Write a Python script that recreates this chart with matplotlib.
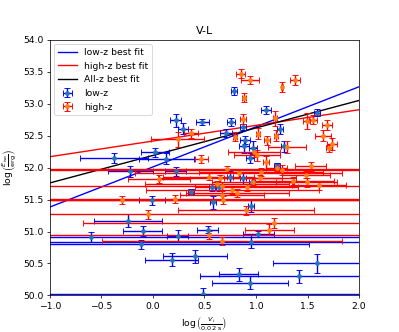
import numpy as np
import matplotlib
matplotlib.use('Agg')
import matplotlib.pyplot as plt

# best fit lines: slope, intercept
lowz_fit = [0.627, 52.01]
highz_fit = [0.245, 52.415]
allz_fit = [0.43, 52.19]

# low-z sample
lowz_x = [0.22, 0.29, -0.38, 0.02, 0.13, -0.22, 0.22, 0.48, 0.79, 1.10, 0.76, 0.87,
          0.71, 0.89, 0.88, 0.97, 0.94, 1.23, 1.59, 1.20, 0.75, 0.87, 0.96, 0.57,
          0.64, 0.37, -0.01, 0.58, 0.95, -0.24, -0.10, -0.60, 0.24, -0.12, 0.95,
          0.53, 1.02, 0.18, 0.41, 1.59, 0.83, 1.42, 0.94, 0.49, 1.27]
lowz_y = [52.74, 52.61, 52.15, 52.24, 52.14, 51.94, 51.94, 52.71, 53.20, 52.90, 52.71, 52.63,
          52.54, 52.43, 52.33, 52.31, 52.15, 52.60, 52.86, 52.02, 51.86, 51.83, 51.78, 51.69,
          51.69, 51.62, 51.49, 51.46, 51.40, 51.17, 51.01, 50.91, 50.93, 50.80, 50.84,
          51.03, 50.96, 50.56, 50.61, 50.50, 50.33, 50.30, 50.20, 50.02, 52.33]
lowz_xerr = [0.05, 0.05, 0.33, 0.14, 0.27, 0.22, 0.10, 0.06, 0.03, 0.05, 0.04, 0.03,
             0.06, 0.05, 0.05, 0.04, 0.04, 0.03, 0.03, 0.03, 0.03, 0.03, 0.03, 0.03,
             0.03, 0.03, 0.13, 0.03, 0.03, 0.33, 0.19, 3.0, 0.10, 1.63, 3.0,
             0.10, 0.15, 0.26, 0.31, 0.43, 0.19, 0.96, 0.37, 3.0, 0.03]
lowz_yerr = [0.10, 0.08, 0.08, 0.07, 0.09, 0.08, 0.07, 0.05, 0.06, 0.06, 0.06, 0.05,
             0.06, 0.06, 0.10, 0.10, 0.08, 0.08, 0.05, 0.05, 0.08, 0.08, 0.08, 0.06,
             0.06, 0.04, 0.07, 0.10, 0.10, 0.10, 0.08, 0.08, 0.09, 0.07, 0.10,
             0.05, 0.05, 0.10, 0.10, 0.15, 0.10, 0.10, 0.10, 0.10, 0.08]

# high-z sample
highz_x = [0.85, 0.94, 1.38, 1.25, 0.88, 0.87, 1.18, 1.49, 1.55, 1.69, 1.02, 1.19,
           1.11, 0.80, 1.65, 1.74, 1.71, 1.30, 0.24, 0.37, 0.47, 0.98, 1.01, 1.10,
           1.53, 1.20, 1.25, 0.72, 0.83, 0.54, 0.06, 1.05, 0.65, 1.485, 1.36, 1.49,
           1.61, 0.67, 0.62, 0.77, 0.82, 0.91, 1.04, 0.97, 0.67, -0.30, 0.21, 0.68,
           0.90, -0.05, 1.17, 1.13, 0.54, 0.67]
highz_y = [53.47, 53.37, 53.37, 53.26, 53.09, 52.76, 52.77, 52.73, 52.75, 52.66, 52.53, 52.50,
           52.43, 52.48, 52.50, 52.37, 52.30, 52.32, 52.44, 52.54, 52.13, 52.24, 52.19, 52.08,
           52.02, 52.00, 51.96, 51.97, 51.91, 51.86, 51.82, 51.93, 51.83, 51.89, 51.79, 51.77,
           51.72, 51.71, 51.74, 51.65, 51.60, 51.69, 51.83, 51.78, 51.57, 51.49, 51.51, 51.49,
           51.33, 51.27, 51.13, 51.03, 50.95, 50.85]
highz_xerr = [0.04, 0.09, 0.05, 0.01, 0.02, 0.03, 0.02, 0.03, 0.04, 0.05, 0.02, 0.02,
              0.03, 0.02, 0.08, 0.05, 0.03, 0.18, 0.26, 0.07, 0.06, 0.25, 0.22, 0.03,
              0.15, 0.10, 2.5, 2.0, 1.0, 0.44, 0.30, 0.6, 0.6, 0.23, 0.4, 0.3,
              0.26, 2.0, 0.7, 0.84, 0.5, 0.5, 0.35, 0.4, 0.41, 2.5, 2.2, 1.8,
              0.66, 2.2, 1.85, 0.24, 2.0, 1.16]
highz_yerr = [0.07, 0.07, 0.08, 0.08, 0.07, 0.08, 0.12, 0.12, 0.07, 0.08, 0.09, 0.09,
              0.07, 0.07, 0.08, 0.10, 0.06, 0.09, 0.12, 0.07, 0.06, 0.08, 0.08, 0.10,
              0.07, 0.05, 0.08, 0.06, 0.06, 0.06, 0.06, 0.06, 0.06, 0.06, 0.07, 0.07,
              0.07, 0.06, 0.05, 0.06, 0.06, 0.06, 0.06, 0.06, 0.06, 0.06, 0.06, 0.06,
              0.07, 0.07, 0.08, 0.08, 0.06, 0.06]

plt.figure(figsize=(6, 4.995))
xx = np.linspace(-1, 2, 50)
plt.plot(xx, lowz_fit[0] * xx + lowz_fit[1], 'b', label='low-z best fit')
plt.plot(xx, highz_fit[0] * xx + highz_fit[1], 'r', label='high-z best fit')
plt.plot(xx, allz_fit[0] * xx + allz_fit[1], 'k', label='All-z best fit')
plt.errorbar(lowz_x, lowz_y, xerr=lowz_xerr, yerr=lowz_yerr, fmt='o', ms=4,
             ecolor='blue', capsize=3, label='low-z')
plt.errorbar(highz_x, highz_y, xerr=highz_xerr, yerr=highz_yerr, fmt='o', ms=4,
             ecolor='red', capsize=3, label='high-z')
plt.xlim(-1, 2)
plt.ylim(50, 54)
plt.xlabel(r'$\log\left(\frac{V_i}{0.02\ \mathrm{s}}\right)$')
plt.ylabel(r'$\log\left(\frac{E_{\mathrm{iso}}}{\mathrm{erg}}\right)$')
plt.title('V-L')
plt.legend(loc='upper left')
plt.savefig('out.png', dpi=66.5)
